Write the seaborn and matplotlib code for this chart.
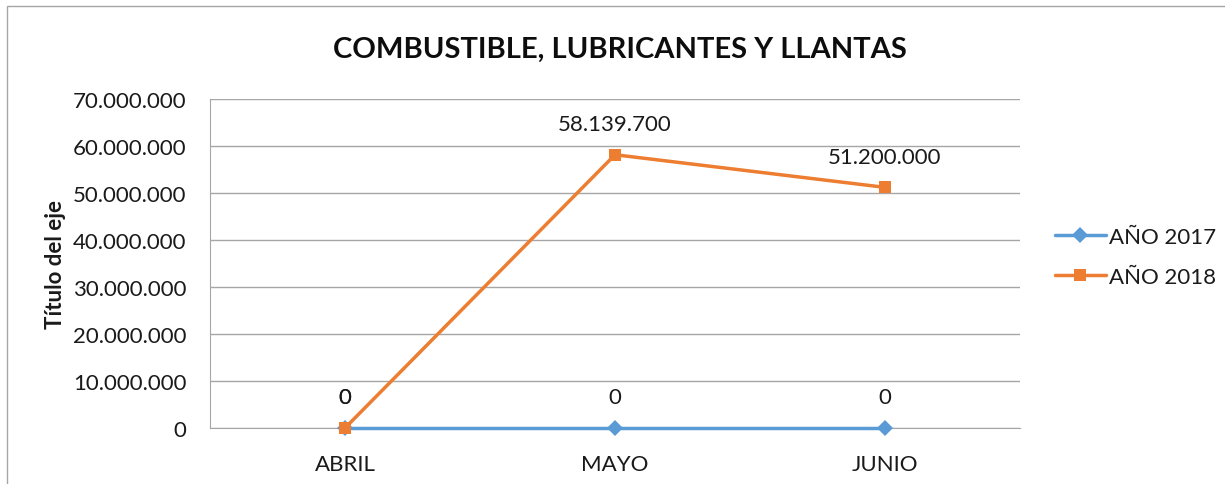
import seaborn as sns
import matplotlib.pyplot as plt
import pandas as pd
from matplotlib.patches import Rectangle
from matplotlib.ticker import FuncFormatter

# chart data
meses = ['ABRIL', 'MAYO', 'JUNIO']
serie_2017 = [0, 0, 0]
serie_2018 = [0, 58139700, 51200000]
nombres = ['AÑO 2017', 'AÑO 2018']

df = pd.DataFrame({
    'Mes': meses * 2,
    'Valor': serie_2017 + serie_2018,
    'Serie': [nombres[0]] * 3 + [nombres[1]] * 3,
})

sns.set_style('white')
plt.rcParams['font.family'] = ['Lato', 'DejaVu Sans']

colores = {'AÑO 2017': '#5B9BD5', 'AÑO 2018': '#ED7D31'}

fig = plt.figure(figsize=(12.25, 4.85), dpi=100)
ax = fig.add_axes([210 / 1225, 1 - 429 / 485, 810 / 1225, 329 / 485])

sns.lineplot(data=df, x='Mes', y='Valor', hue='Serie', style='Serie',
             markers={'AÑO 2017': 'D', 'AÑO 2018': 's'}, dashes=False,
             palette=colores, linewidth=2.5, markersize=8,
             markeredgewidth=0, ax=ax, sort=False)
for ln in ax.lines:
    ln.set_clip_on(False)
    ln.set_zorder(3)

ax.set_xlim(-0.5, 2.5)
ax.set_ylim(0, 70000000)
ax.set_yticks(range(0, 70000001, 10000000))
ax.yaxis.set_major_formatter(FuncFormatter(lambda v, p: f'{int(v):,}'.replace(',', '.')))
ax.grid(axis='y', color='#A6A6A6', linewidth=1)
ax.set_axisbelow(True)
for s in ['top', 'right']:
    ax.spines[s].set_visible(False)
for s in ['left', 'bottom']:
    ax.spines[s].set_color('#A6A6A6')
    ax.spines[s].set_zorder(1)
ax.tick_params(axis='both', labelsize=16, length=0)
ax.tick_params(axis='x', pad=19)
ax.tick_params(axis='y', pad=17)
for t in ax.get_xticklabels() + ax.get_yticklabels():
    t.set_color('#1a1a1a')

ax.set_xlabel('')
ax.set_ylabel('Título del eje', fontsize=16, fontweight='bold', color='#1a1a1a')
ax.yaxis.set_label_coords(-0.178, 0.5)

# data labels
for serie, valores in [(nombres[0], serie_2017), (nombres[1], serie_2018)]:
    for i, v in enumerate(valores):
        ax.annotate(f'{v:,}'.replace(',', '.'), (i, v), xytext=(0, 22),
                    textcoords='offset points', ha='center', va='center',
                    fontsize=16, color='#1a1a1a')

fig.suptitle('COMBUSTIBLE, LUBRICANTES Y LLANTAS', fontsize=21,
             fontweight='bold', x=620 / 1225, y=1 - 50 / 485, va='center',
             color='#0d0d0d')

leg = ax.legend(loc='center left', bbox_to_anchor=(1.018, 0.52), frameon=False,
                fontsize=16, handlelength=2.3, handletextpad=0.15, labelspacing=0.9)
for t in leg.get_texts():
    t.set_color('#1a1a1a')

# chart border
fig.patches.append(Rectangle((7 / 1225, -0.1), 2, 1.1 - 7 / 485, transform=fig.transFigure,
                             fill=False, edgecolor='#A6A6A6', linewidth=1))

fig.savefig('out.png', dpi=100)
